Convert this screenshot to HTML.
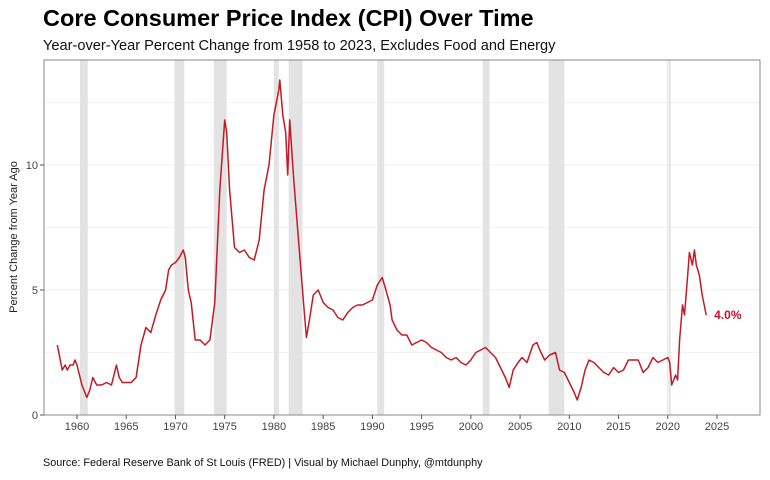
<!DOCTYPE html>
<html><head><meta charset="utf-8">
<style>
body{margin:0;background:#fff;font-family:"Liberation Sans",Arial,sans-serif;}
svg text{font-family:"Liberation Sans",Arial,sans-serif;}
</style></head>
<body>
<svg width="770" height="475" viewBox="0 0 770 475" xmlns="http://www.w3.org/2000/svg">
<text x="43" y="26" font-size="23.5" font-weight="bold" fill="#000">Core Consumer Price Index (CPI) Over Time</text>
<text x="43" y="50" font-size="14.6" fill="#111">Year-over-Year Percent Change from 1958 to 2023, Excludes Food and Energy</text>
<g id="plot"></g>
<text transform="translate(17,237) rotate(-90)" text-anchor="middle" font-size="11" fill="#222">Percent Change from Year Ago</text>
<text x="43" y="466" font-size="10.85" fill="#111">Source: Federal Reserve Bank of St Louis (FRED) | Visual by Michael Dunphy, @mtdunphy</text>
</svg>
<script>
const recessionStarts=[1960.3,1969.9,1973.9,1980.0,1981.5,1990.5,2001.2,2007.9,2020.1];
const recessionEnds=[1961.1,1970.9,1975.2,1980.5,1982.9,1991.2,2001.9,2009.5,2020.3];
const xTicks=[1960,1965,1970,1975,1980,1985,1990,1995,2000,2005,2010,2015,2020,2025];
const yTicks=[0,5,10];
const yMinor=[2.5,7.5,12.5];
const dates=[1958.0,1958.2,1958.5,1958.8,1959.0,1959.3,1959.6,1959.8,1960.0,1960.5,1960.8,1961.0,1961.3,1961.6,1962,1962.5,1963,1963.5,1964.0,1964.3,1964.6,1965,1965.5,1966,1966.5,1967,1967.5,1968,1968.5,1969,1969.3,1969.6,1970,1970.4,1970.8,1971,1971.3,1971.6,1972,1972.5,1973,1973.5,1974,1974.5,1975,1975.2,1975.5,1976,1976.5,1977,1977.5,1978,1978.5,1979,1979.5,1980,1980.5,1980.6,1980.9,1981.2,1981.4,1981.6,1982.0,1982.5,1983,1983.3,1983.6,1984,1984.5,1985,1985.5,1986,1986.5,1987,1987.5,1988,1988.5,1989,1989.5,1990,1990.5,1991,1991.3,1991.8,1992,1992.5,1993,1993.5,1994,1994.5,1995,1995.5,1996,1996.5,1997,1997.5,1998,1998.5,1999,1999.5,2000,2000.5,2001,2001.5,2002,2002.5,2003,2003.5,2003.9,2004.3,2004.8,2005.2,2005.7,2006.3,2006.7,2007,2007.5,2008,2008.6,2009,2009.5,2010,2010.5,2010.8,2011.2,2011.6,2012,2012.5,2013,2013.5,2014,2014.5,2015,2015.5,2016,2016.5,2017,2017.5,2018,2018.5,2019,2019.5,2020,2020.2,2020.4,2020.8,2021.0,2021.2,2021.5,2021.7,2022,2022.2,2022.5,2022.7,2022.9,2023.2,2023.5,2023.9];
const values=[2.8,2.4,1.8,2.0,1.8,2.0,2.0,2.2,2.0,1.2,0.9,0.7,1.0,1.5,1.2,1.2,1.3,1.2,2.0,1.5,1.3,1.3,1.3,1.5,2.8,3.5,3.3,4.0,4.6,5.0,5.8,6.0,6.1,6.3,6.6,6.3,5.0,4.5,3.0,3.0,2.8,3.0,4.5,9.0,11.8,11.3,9.0,6.7,6.5,6.6,6.3,6.2,7.0,9.0,10.0,12.0,13.0,13.4,12.0,11.3,9.6,11.8,9.5,7.0,4.5,3.1,3.8,4.8,5.0,4.5,4.3,4.2,3.9,3.8,4.1,4.3,4.4,4.4,4.5,4.6,5.2,5.5,5.1,4.4,3.8,3.4,3.2,3.2,2.8,2.9,3.0,2.9,2.7,2.6,2.5,2.3,2.2,2.3,2.1,2.0,2.2,2.5,2.6,2.7,2.5,2.3,1.9,1.5,1.1,1.8,2.1,2.3,2.1,2.8,2.9,2.6,2.2,2.4,2.5,1.8,1.7,1.3,0.9,0.6,1.1,1.8,2.2,2.1,1.9,1.7,1.6,1.9,1.7,1.8,2.2,2.2,2.2,1.7,1.9,2.3,2.1,2.2,2.3,2.1,1.2,1.6,1.4,3.0,4.4,4.0,5.5,6.5,6.0,6.6,6.0,5.6,4.8,4.0];
const lastLabel="4.0%";

const NS="http://www.w3.org/2000/svg";
const L=44,R=760,T=60,B=415;
const x=v=>77+(v-1960)*(640/65);
const y=v=>415-v*25;
const g=document.getElementById('plot');
function mk(tag,attrs,parent){const e=document.createElementNS(NS,tag);for(const k in attrs)e.setAttribute(k,attrs[k]);(parent||g).appendChild(e);return e;}
yMinor.forEach(v=>{const e=mk('line',{x1:L,x2:R,y1:y(v),y2:y(v),stroke:'#f3f3f3','stroke-width':1});

});
yTicks.forEach(v=>{const e=mk('line',{x1:L,x2:R,y1:y(v),y2:y(v),stroke:'#efefef','stroke-width':1});

});
const vl=mk('line',{x1:x(2020),x2:x(2020),y1:T,y2:B,stroke:'#e4e4e4','stroke-width':1});


recessionStarts.forEach((s,i)=>{const e=mk('rect',{x:x(s),y:T,width:Math.max(1,x(recessionEnds[i])-x(s)),height:B-T,fill:'#e3e3e3'});

});
const fr=mk('rect',{x:L,y:T,width:R-L,height:B-T,fill:'none',stroke:'#888','stroke-width':1});


xTicks.forEach(v=>{const t=mk('line',{x1:x(v),x2:x(v),y1:B,y2:B+4,stroke:'#555'});


const l=mk('text',{x:x(v),y:B+15,'text-anchor':'middle','font-size':11,fill:'#444'});l.textContent=v;

});
yTicks.forEach(v=>{const t=mk('line',{x1:L-4,x2:L,y1:y(v),y2:y(v),stroke:'#555'});


const l=mk('text',{x:L-6,y:y(v)+4,'text-anchor':'end','font-size':11,fill:'#444'});l.textContent=v;

});
const pts=dates.map((d,i)=>x(d).toFixed(1)+','+y(values[i]).toFixed(1)).join(' ');
const pl=mk('polyline',{points:pts,fill:'none',stroke:'#c41a26','stroke-width':1.5,'stroke-linejoin':'round'});


const n=dates.length-1;
const lb=mk('text',{x:x(dates[n])+8,y:y(values[n])+4,'font-size':12,'font-weight':'bold',fill:'#c8102e'});
lb.textContent=lastLabel;


</script>
</body></html>
